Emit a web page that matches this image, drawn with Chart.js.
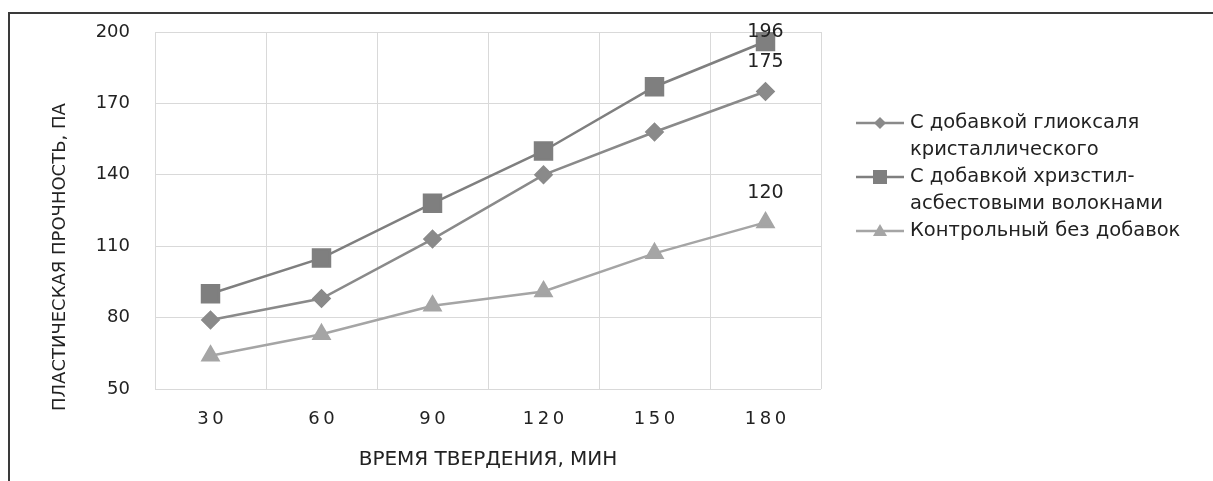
<!DOCTYPE html>
<html>
<head>
<meta charset="utf-8">
<script src="https://cdn.jsdelivr.net/npm/chart.js"></script>
<style>
  html, body { margin: 0; padding: 0; background: #fff; }
  #frame { position: absolute; left: 8px; top: 12px; width: 1205px; height: 469px;
           border-top: 2px solid #3a3a3a; border-left: 2px solid #3a3a3a; box-sizing: border-box; }
  #wrap { position: absolute; left: 0; top: 0; width: 1203px; height: 467px; }
</style>
</head>
<body>
<div id="frame"><div id="wrap"><canvas id="chart"></canvas></div></div>
<script>
const times = ['30', '60', '90', '120', '150', '180'];
const seriesNames = [
  ['С добавкой глиоксаля', 'кристаллического'],
  ['С добавкой хризстил-', 'асбестовыми волокнами'],
  ['Контрольный без добавок']
];
const glyoxal = [79, 88, 113, 140, 158, 175];
const chrysotile = [90, 105, 128, 150, 177, 196];
const control = [64, 73, 85, 91, 107, 120];
const yTicks = [50, 80, 110, 140, 170, 200];
const xTitle = 'ВРЕМЯ ТВЕРДЕНИЯ, МИН';
const yTitle = 'ПЛАСТИЧЕСКАЯ ПРОЧНОСТЬ, ПА';

const textColor = '#222222';
const gridColor = '#d9d9d9';
Chart.defaults.font.family = "'DejaVu Sans', sans-serif";
Chart.defaults.color = textColor;

// small marker drawer used by the legend
function marker(ctx, style, x, y, color) {
  ctx.fillStyle = color;
  ctx.beginPath();
  if (style === 'rect') {
    ctx.rect(x - 7, y - 7, 14, 14);
  } else if (style === 'rectRot') {
    ctx.moveTo(x, y - 6); ctx.lineTo(x + 6, y); ctx.lineTo(x, y + 6); ctx.lineTo(x - 6, y);
  } else {
    ctx.moveTo(x, y - 7); ctx.lineTo(x + 7, y + 5); ctx.lineTo(x - 7, y + 5);
  }
  ctx.closePath();
  ctx.fill();
}

const extras = {
  id: 'extras',
  afterDraw(chart) {
    const ctx = chart.ctx;
    const area = chart.chartArea;
    ctx.save();
    ctx.fillStyle = textColor;

    // y axis title (Excel puts it lower than centre)
    ctx.save();
    ctx.font = "18px 'DejaVu Sans'";
    ctx.translate(area.left - 95, area.bottom + 22);
    ctx.rotate(-Math.PI / 2);
    ctx.textAlign = 'left';
    ctx.textBaseline = 'middle';
    ctx.fillText(yTitle, 0, 0);
    ctx.restore();

    // value labels on last points
    ctx.font = "19px 'DejaVu Sans'";
    ctx.textAlign = 'center';
    ctx.textBaseline = 'middle';
    chart.data.datasets.forEach((ds, i) => {
      const meta = chart.getDatasetMeta(i);
      const last = meta.data.length - 1;
      const pt = meta.data[last];
      ctx.fillText(String(ds.data[last]), pt.x, Math.max(pt.y - 29, area.top));
    });

    // legend
    ctx.font = "19.5px 'DejaVu Sans'";
    let y = area.top + 91;
    const x0 = area.right + 35;
    chart.data.datasets.forEach((ds, i) => {
      ctx.strokeStyle = ds.borderColor;
      ctx.lineWidth = 2.5;
      ctx.beginPath();
      ctx.moveTo(x0, y);
      ctx.lineTo(x0 + 48, y);
      ctx.stroke();
      marker(ctx, ds.pointStyle, x0 + 24, y, ds.borderColor);
      ctx.fillStyle = textColor;
      ctx.textAlign = 'left';
      seriesNames[i].forEach(line => {
        ctx.fillText(line, x0 + 54, y);
        y += 27;
      });
    });
    ctx.restore();
  }
};

new Chart(document.getElementById('chart'), {
  type: 'line',
  data: {
    labels: times,
    datasets: [
      {
        label: seriesNames[0].join(' '),
        data: glyoxal,
        borderColor: '#8a8a8a',
        backgroundColor: '#8a8a8a',
        pointBackgroundColor: '#8a8a8a',
        pointBorderColor: '#8a8a8a',
        pointStyle: 'rectRot',
        pointRadius: 8,
        borderWidth: 2.5
      },
      {
        label: seriesNames[1].join(' '),
        data: chrysotile,
        borderColor: '#7f7f7f',
        backgroundColor: '#7f7f7f',
        pointBackgroundColor: '#7f7f7f',
        pointBorderColor: '#7f7f7f',
        pointStyle: 'rect',
        pointRadius: 12,
        borderWidth: 2.5
      },
      {
        label: seriesNames[2].join(' '),
        data: control,
        borderColor: '#a5a5a5',
        backgroundColor: '#a5a5a5',
        pointBackgroundColor: '#a5a5a5',
        pointBorderColor: '#a5a5a5',
        pointStyle: 'triangle',
        pointRadius: 9,
        borderWidth: 2.5
      }
    ]
  },
  options: {
    responsive: true,
    maintainAspectRatio: false,
    animation: false,
    layout: { padding: { top: 18, right: 392, left: 0, bottom: 0 } },
    plugins: {
      legend: { display: false },
      tooltip: { enabled: false }
    },
    scales: {
      x: {
        offset: true,
        grid: { offset: true, color: gridColor, drawTicks: false },
        border: { display: false },
        ticks: {
          padding: 20,
          font: { size: 18 },
          callback: function (v) {
            return this.getLabelForValue(v).split('').join('\u2009');
          }
        },
        title: {
          display: true,
          text: xTitle,
          font: { size: 20 },
          padding: { top: 0, bottom: 9 }
        },
        afterFit: s => { s.height = 92; }
      },
      y: {
        min: 50,
        max: 200,
        grid: { color: gridColor, drawTicks: false },
        border: { display: false },
        ticks: { padding: 25, font: { size: 18 } },
        afterBuildTicks: s => { s.ticks = yTicks.map(v => ({ value: v })); },
        afterFit: s => { s.width = 145; s.paddingTop = 0; s.paddingBottom = 0; }
      }
    }
  },
  plugins: [extras]
});
</script>
</body>
</html>
